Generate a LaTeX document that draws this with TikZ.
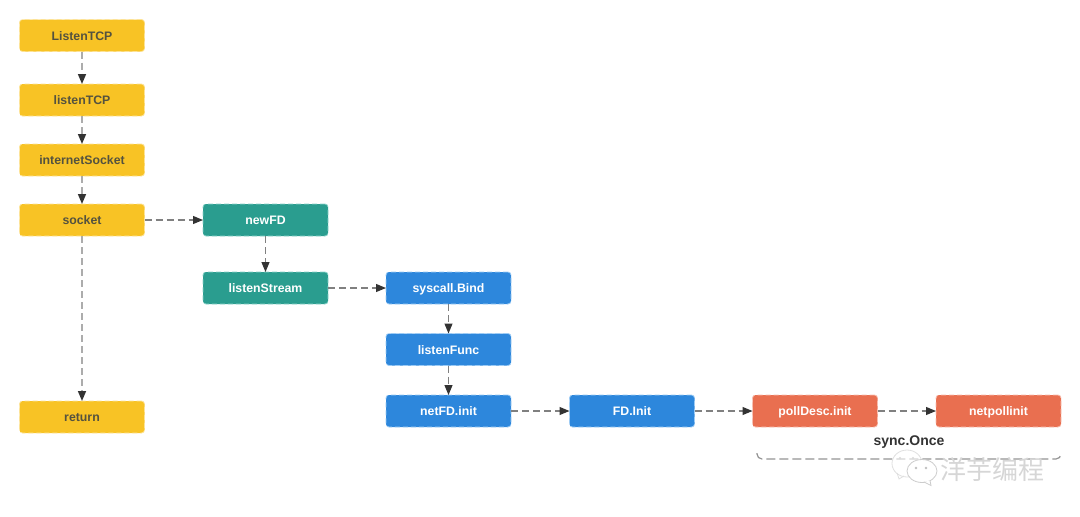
\documentclass[tikz,border=0pt]{standalone}
\usepackage{fontspec}
\setmainfont{Liberation Sans}
\newfontfamily\cjk{Noto Sans CJK SC}
\usetikzlibrary{arrows.meta}
\definecolor{cyellow}{HTML}{F8C325}
\definecolor{cyellowb}{HTML}{FDE397}
\definecolor{cteal}{HTML}{2A9D8F}
\definecolor{ctealb}{HTML}{8AD2C8}
\definecolor{cblue}{HTML}{2D87DC}
\definecolor{cblueb}{HTML}{9CCBF5}
\definecolor{cred}{HTML}{E96F50}
\definecolor{credb}{HTML}{F8BEAF}
\definecolor{ctext}{HTML}{54523F}
\definecolor{cline}{HTML}{808080}
\definecolor{ctip}{HTML}{333333}
\tikzset{
  x=1pt,y=-1pt,
  boxbase/.style={rectangle,rounded corners=3pt,minimum width=125pt,minimum height=32pt,inner sep=0pt,outer sep=0pt,dash pattern=on 5pt off 3pt,line width=0.8pt,text height=12pt,text depth=2.5pt,font=\fontsize{12.3pt}{14pt}\selectfont\bfseries},
  ybox/.style={boxbase,fill=cyellow,draw=cyellowb,text=ctext},
  tbox/.style={boxbase,fill=cteal,draw=ctealb,text=white},
  bbox/.style={boxbase,fill=cblue,draw=cblueb,text=white},
  rbox/.style={boxbase,fill=cred,draw=credb,text=white},
  flow/.style={draw=cline,line width=1.1pt,dash pattern=on 7pt off 4pt,-{Triangle[length=10pt,width=8pt,color=ctip]}},
  flowy/.style={flow,draw=cline!65,line width=1.5pt},
  wm/.style={draw=gray!40,line width=0.8pt,fill=white},
}
\begin{document}
\begin{tikzpicture}
\useasboundingbox (0,0) rectangle (1080,517);
\node[ybox] (a) at (82,35.5) {ListenTCP};
\node[ybox] (b) at (82,100) {listenTCP};
\node[ybox] (c) at (82,160) {internetSocket};
\node[ybox] (d) at (82,220) {socket};
\node[ybox] (e) at (82,417) {return};
\node[tbox] (f) at (265.5,220) {newFD};
\node[tbox] (g) at (265.5,288) {listenStream};
\node[bbox] (h) at (448.5,288) {syscall.Bind};
\node[bbox] (i) at (448.5,349.5) {listenFunc};
\node[bbox] (j) at (448.5,411) {netFD.init};
\node[bbox] (k) at (632,411) {FD.Init};
\node[rbox] (l) at (815,411) {pollDesc.init};
\node[rbox] (m) at (998.5,411) {netpollinit};
\draw[flowy] (a) -- (b);
\draw[flowy] (b) -- (c);
\draw[flowy] (c) -- (d);
\draw[flowy] (d) -- (e);
\draw[flow] (d) -- (f);
\draw[flow] (f) -- (g);
\draw[flow] (g) -- (h);
\draw[flow] (h) -- (i);
\draw[flow] (i) -- (j);
\draw[flow] (j) -- (k);
\draw[flow] (k) -- (l);
\draw[flow] (l) -- (m);
\coordinate (bl) at (757,453);
\coordinate (br) at (1061,453);
\draw[draw=cline!85,line width=1.2pt,dash pattern=on 9pt off 4pt,rounded corners=5pt] (bl) |- (909,459) -| (br);
\node[font=\fontsize{14pt}{16pt}\selectfont\bfseries,text=ctip,inner sep=0pt] (s) at (909,442.5) {sync.Once};
% watermark
\draw[wm,draw=gray!25,fill=white,fill opacity=0.6] (907,463.5) ellipse [x radius=15pt,y radius=13.5pt];
\draw[draw=gray!25,line width=0.8pt] (897,473) -- (899,479) -- (904,476);
\draw[wm] (922,471) ellipse [x radius=15pt,y radius=11.5pt];
\draw[wm] (924,482) -- (931,485.5) -- (930,480.5);
\fill[gray!50] (916,468) circle (1.4pt) (926,468) circle (1.4pt);
\fill[gray!30] (900,458) circle (1.2pt) (913,458) circle (1.2pt);
\node[font=\cjk\fontsize{26pt}{28pt}\selectfont,text=gray!32,inner sep=0pt] (w) at (992,470) {洋芋编程};
\end{tikzpicture}
\end{document}
